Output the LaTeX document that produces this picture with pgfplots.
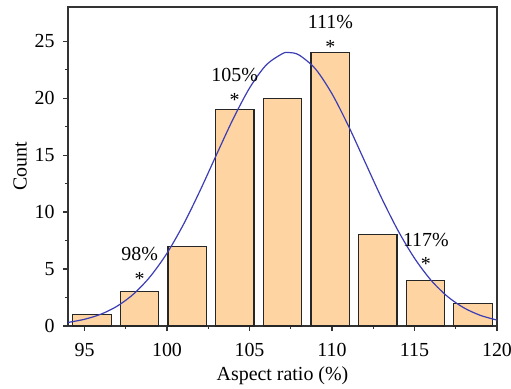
\documentclass[border=0pt]{standalone}
\usepackage{fontspec}
\setmainfont{Liberation Serif}
\usepackage{pgfplots}
\pgfplotsset{compat=1.18}
\definecolor{barfill}{HTML}{FDD4A2}
\definecolor{fitblue}{HTML}{3B3DB5}
\begin{document}
\begin{tikzpicture}
\begin{axis}[
  name=main,
  scale only axis, width=214.5bp, height=159.5bp,
  xmin=94, xmax=120, ymin=0, ymax=28,
  xtick={95,100,...,120}, ytick={0,5,...,25},
  minor x tick num=1, minor y tick num=1,
  tick pos=left, tick align=outside,
  major tick length=2.5bp, minor tick length=1.5bp,
  axis line style={draw=black!80, line width=0.6bp},
  every tick/.style={draw=black!80, line width=0.6bp},
  /pgf/number format/assume math mode=true,
  xticklabel style={yshift=-2.5bp},
  yticklabel style={xshift=-0.7bp},
  xlabel={Aspect ratio (\%)}, ylabel={Count},
  xlabel style={at={(axis description cs:0.5,-0.1724)}, anchor=base},
  ylabel style={at={(axis description cs:-0.0965,0.5)}, anchor=base},
  clip=false,
]
\addplot[ybar, bar width=2.33, fill=barfill, draw=black!85, line width=0.6bp]
  coordinates {(95.45,1) (98.34,3) (101.23,7) (104.11,19) (107.0,20) (109.89,24) (112.78,8) (115.67,4) (118.55,2)};
\addplot[fitblue, line width=0.6bp, smooth] coordinates {
 (94,0.31) (95,0.59) (96,1.04) (97,1.76) (98,2.84) (99,4.37) (100,6.39) (101,8.92) (102,11.87) (103,15.04) (104,18.15) (105,20.88) (106,22.89) (107,23.91) (107.4,24.0) (108,23.79) (109,22.56) (110,20.38) (111,17.55) (112,14.40) (113,11.25) (114,8.38) (115,5.95) (116,4.02) (117,2.59) (118,1.59) (119,0.93) (120,0.52)};
\node at (axis cs:98.34,6.33) {98\%};
\node[yshift=-2bp] at (axis cs:98.34,4.49) {*};
\node at (axis cs:104.1,22.0) {105\%};
\node[yshift=-2bp] at (axis cs:104.1,20.17) {*};
\node at (axis cs:109.9,26.7) {111\%};
\node[yshift=-2bp] at (axis cs:109.9,24.85) {*};
\node at (axis cs:115.69,7.56) {117\%};
\node[yshift=-2bp] at (axis cs:115.69,5.78) {*};
\end{axis}
\pgfresetboundingbox
\path[use as bounding box] ([shift={(-34bp,-31.5bp)}]main.south west) rectangle ([shift={(7bp,3.5bp)}]main.north east);
\end{tikzpicture}
\end{document}
